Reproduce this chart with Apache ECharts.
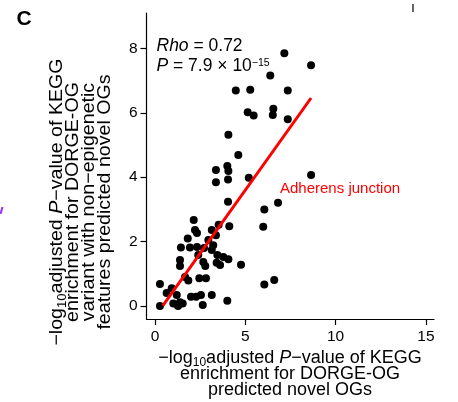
<!DOCTYPE html>
<html>
<head>
<meta charset="utf-8">
<script src="https://cdn.jsdelivr.net/npm/echarts@6/dist/echarts.min.js"></script>
<style>
  html, body { margin: 0; padding: 0; background: #fff; }
  #chart { width: 458px; height: 402px; }
</style>
</head>
<body>
<div id="chart"></div>
<script>
  // tick positions
  var xTicks = [0, 5, 10, 15];
  var yTicks = [0, 2, 4, 6, 8];

  // pathway points: [x = DORGE-OG, y = non-epigenetic variant]
  var points = [
    [7.16, 7.85], [8.64, 7.48], [6.38, 7.16], [4.47, 6.69], [5.27, 6.72],
    [7.35, 6.69], [5.13, 6.02], [5.46, 5.92], [6.55, 6.13], [6.52, 5.93],
    [7.35, 5.80], [4.06, 5.32], [4.61, 4.69], [3.37, 4.22], [4.00, 4.35],
    [4.06, 4.19], [5.19, 3.98], [8.64, 4.07], [3.37, 3.84], [4.04, 3.93],
    [4.04, 3.24], [6.81, 3.21], [6.05, 3.00], [5.99, 2.46], [2.14, 2.67],
    [2.21, 2.36], [3.14, 2.36], [3.52, 2.52], [4.11, 2.48], [3.37, 2.20],
    [1.81, 2.10], [2.95, 2.05], [1.43, 1.82], [1.93, 1.82], [2.32, 1.83],
    [2.71, 1.80], [3.22, 1.89], [3.14, 1.74], [3.45, 1.58], [3.78, 1.52],
    [4.06, 1.45], [1.38, 1.43], [1.38, 1.24], [2.39, 1.58], [2.67, 1.37],
    [2.78, 1.24], [3.60, 1.27], [3.41, 1.34], [4.76, 1.28], [1.66, 0.90],
    [1.84, 0.79], [2.45, 0.86], [2.82, 0.86], [6.05, 0.67], [6.60, 0.81],
    [0.27, 0.68], [0.92, 0.55], [0.64, 0.40], [1.20, 0.34], [1.38, 0.12],
    [1.99, 0.29], [2.27, 0.29], [2.54, 0.34], [3.14, 0.34], [2.64, 0.03],
    [4.00, 0.16], [0.27, 0.00], [1.01, 0.08], [1.53, 0.08], [1.27, 0.00],
    [2.32, 2.27]
  ];

  // fitted line ends
  var fitLine = [[0.43, 0.01], [8.64, 6.46]];

  var FONT = "'Liberation Sans', Arial, sans-serif";

  // text pieces: normal, italic, subscript, superscript
  var styles = {
    n:   { size: 18, italic: false, dy: 0 },
    it:  { size: 18, italic: true, dy: 0 },
    sub: { size: 12, italic: false, dy: 5.3 }
  };

  var ctx = document.createElement('canvas').getContext('2d');
  function fontOf(s) {
    return (s.italic ? 'italic ' : '') + s.size + 'px ' + FONT;
  }
  function measure(txt, s) {
    ctx.font = fontOf(s);
    return ctx.measureText(txt).width;
  }

  // one line of mixed text, centred on cx, middle at y
  function mixedLine(parts, cx, y, st, color, align) {
    var total = 0;
    parts.forEach(function (p) { total += measure(p[0], st[p[1]]); });
    var x = align === 'left' ? cx : cx - total / 2;
    var out = [];
    parts.forEach(function (p) {
      var s = st[p[1]];
      out.push({
        type: 'text', x: x, y: y + s.dy,
        style: { text: p[0], font: fontOf(s), fill: color || '#000', textAlign: 'left', textVerticalAlign: 'middle' }
      });
      x += measure(p[0], s);
    });
    return out;
  }

  var titleLine1 = [['−log', 'n'], ['10', 'sub'], ['adjusted ', 'n'], ['P', 'it'], ['−value of KEGG', 'n']];

  // x axis title
  var xTitle = []
    .concat(mixedLine(titleLine1, 290, 357.7, styles))
    .concat(mixedLine([['enrichment for DORGE-OG', 'n']], 290, 373.9, styles))
    .concat(mixedLine([['predicted novel OGs', 'n']], 290, 390.4, styles));

  // y axis title (drawn flat, then rotated)
  var yTitle = []
    .concat(mixedLine(titleLine1, 0, -24, styles))
    .concat(mixedLine([['enrichment for DORGE-OG', 'n']], 0, -8, styles))
    .concat(mixedLine([['variant with non−epigenetic', 'n']], 0, 8, styles))
    .concat(mixedLine([['features predicted novel OGs', 'n']], 0, 24, styles));

  // statistics text
  var statStyles = {
    n:   { size: 17.5, italic: false, dy: 0 },
    it:  { size: 17.5, italic: true, dy: 0 },
    sup: { size: 10.5, italic: false, dy: -3.4 }
  };
  var statText = []
    .concat(mixedLine([['Rho', 'it'], [' = 0.72', 'n']], 156.5, 46.2, statStyles, '#000', 'left'))
    .concat(mixedLine([['P', 'it'], [' = 7.9 × 10', 'n'], ['−15', 'sup']], 156.5, 66.2, statStyles, '#000', 'left'));

  var chart = echarts.init(document.getElementById('chart'));
  chart.setOption({
    animation: false,
    backgroundColor: '#fff',
    grid: { left: 146.5, right: 24, top: 13, bottom: 83 },
    xAxis: {
      type: 'value',
      min: -0.476,
      max: 15.45,
      splitLine: { show: false },
      axisLine: { onZero: false, lineStyle: { color: '#000', width: 1.2 } },
      axisTick: { customValues: xTicks, length: 6, lineStyle: { color: '#000', width: 1.2 } },
      axisLabel: { customValues: xTicks, color: '#000', fontSize: 15.5, fontFamily: FONT, margin: 10 }
    },
    yAxis: {
      type: 'value',
      min: -0.404,
      max: 9.1,
      splitLine: { show: false },
      axisLine: { onZero: false, lineStyle: { color: '#000', width: 1.2 } },
      axisTick: { customValues: yTicks, length: 6, lineStyle: { color: '#000', width: 1.2 } },
      axisLabel: { customValues: yTicks, color: '#000', fontSize: 15.5, fontFamily: FONT, margin: 9 }
    },
    series: [
      {
        type: 'scatter',
        data: points,
        symbolSize: 8,
        itemStyle: { color: '#000', opacity: 1 },
        z: 2
      },
      {
        type: 'line',
        data: fitLine,
        symbol: 'none',
        lineStyle: { color: '#ff0000', width: 3 },
        z: 3
      }
    ],
    graphic: [
      {
        type: 'text', x: 24, y: 19,
        style: { text: 'C', font: 'bold 21px ' + FONT, fill: '#000', textAlign: 'center', textVerticalAlign: 'middle' }
      },
      {
        type: 'text', x: 280, y: 189,
        style: { text: 'Adherens junction', font: '15px ' + FONT, fill: '#ff0000', textAlign: 'left', textVerticalAlign: 'middle' }
      },
      { type: 'group', children: statText },
      { type: 'group', children: xTitle },
      { type: 'group', x: 81, y: 202, rotation: Math.PI / 2, scaleX: 1.09, children: yTitle },
      // cropping leftovers from the neighbouring panels
      { type: 'line', shape: { x1: 413, y1: 4, x2: 413, y2: 12 }, style: { stroke: '#333', lineWidth: 1.5 } },
      { type: 'line', shape: { x1: 0.5, y1: 214, x2: 2.5, y2: 207 }, style: { stroke: '#9b30ff', lineWidth: 2 } }
    ]
  });
</script>
</body>
</html>
